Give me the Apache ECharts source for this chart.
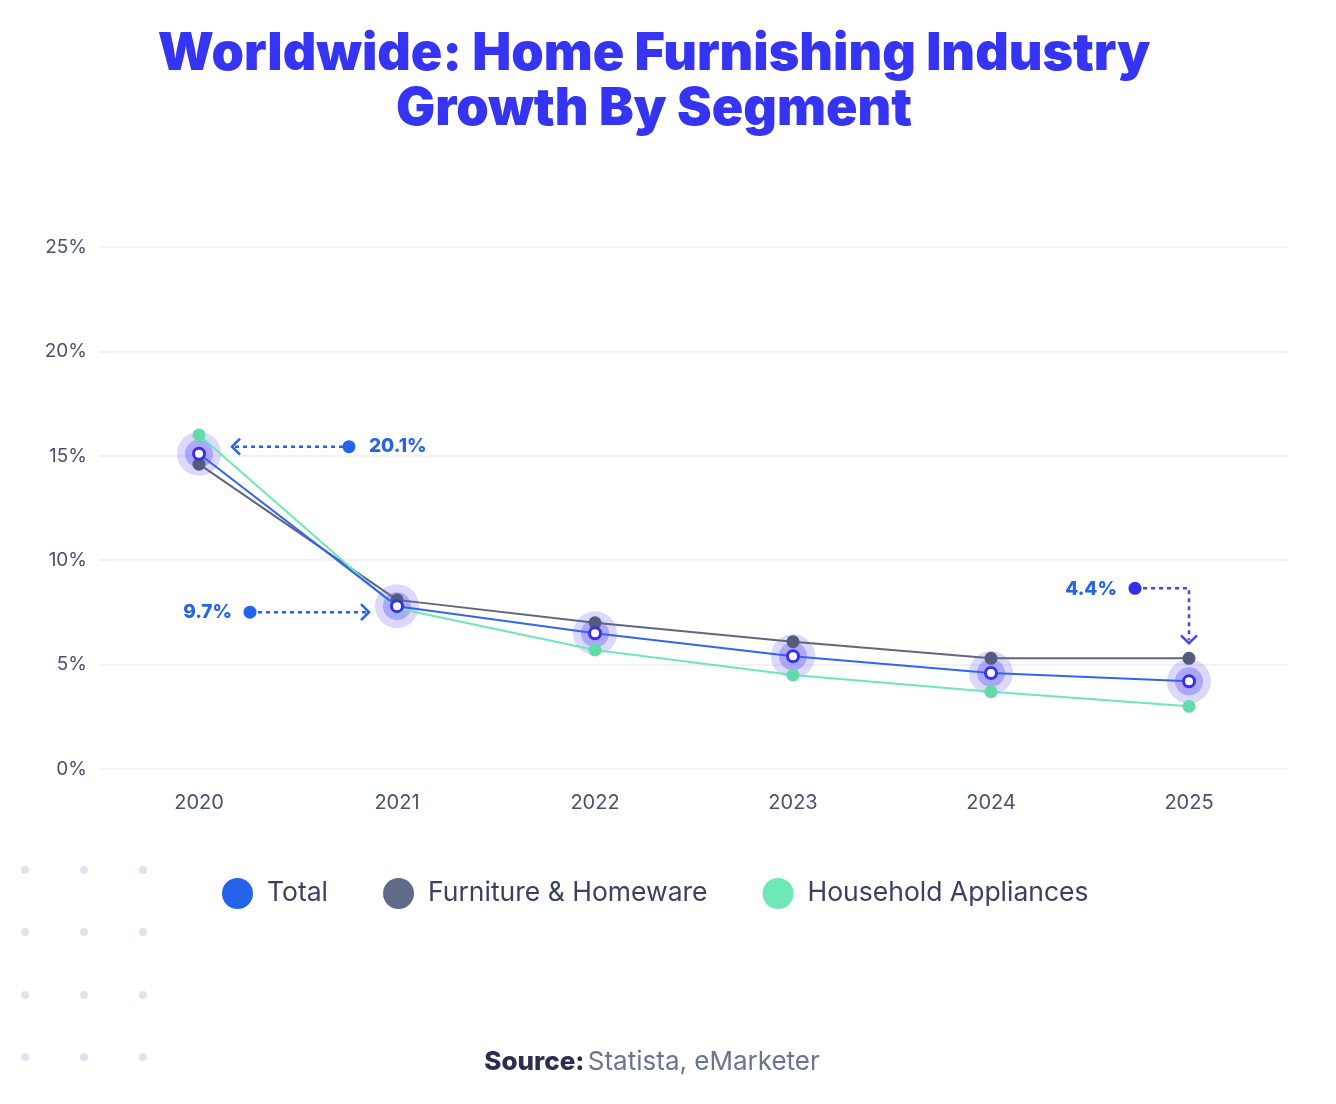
<!DOCTYPE html>
<html>
<head>
<meta charset="utf-8">
<script src="https://cdn.jsdelivr.net/npm/echarts@6/dist/echarts.min.js"></script>
<style>
html,body{margin:0;padding:0;background:#fff;}
#chart{width:1336px;height:1104px;}
</style>
</head>
<body>
<div id="chart"></div>
<script>
const years = ['2020','2021','2022','2023','2024','2025'];
const totalValues = [15.1, 7.8, 6.5, 5.4, 4.6, 4.2];
const furnitureValues = [14.6, 8.1, 7.0, 6.1, 5.3, 5.3];
const applianceValues = [16.0, 7.7, 5.7, 4.5, 3.7, 3.0];
const yTicks = [0, 5, 10, 15, 20, 25];
const annotationLabels = ['20.1%', '9.7%', '4.4%'];

const BLUE = '#2563eb';
const INDIGO = '#3a30ec';
const SLATE = '#5c6885';
const MINT = '#6ee7b7';
const FONT = 'Inter, "Noto Sans", sans-serif';

const chart = echarts.init(document.getElementById('chart'));

const dots = [];
[25, 84, 143].forEach(x => [870, 932, 995, 1057].forEach(y => {
  dots.push({type:'circle', shape:{cx:x, cy:y, r:4}, style:{fill:'#dfe3ef'}, silent:true});
}));

const baseGraphics = [
  {type:'text', x:654, y:27, style:{text:'Worldwide: Home Furnishing Industry\nGrowth By Segment', fill:'#3434f2', font:'900 52px ' + FONT, align:'center', lineHeight:55}},
  {type:'text', x:652, y:1062, style:{rich:{b:{fontWeight:800, fontSize:26, fill:'#2b2f4f', fontFamily:FONT}, n:{fontSize:26, fill:'#6b7391', fontFamily:FONT}}, text:'{b|Source:} {n|Statista, eMarketer}', align:'center', verticalAlign:'middle'}}
].concat(dots);

chart.setOption({
  animation:false,
  backgroundColor:'#fff',
  grid:{left:100, right:48, top:247, bottom:335},
  legend:{
    data:[
      {name:'Total', itemStyle:{color:BLUE, borderWidth:0}},
      {name:'Furniture & Homeware', itemStyle:{color:'#5f6b88'}},
      {name:'Household Appliances', itemStyle:{color:MINT}}
    ],
    top:873, left:217, icon:'circle', itemWidth:31, itemHeight:31, itemGap:55,
    textStyle:{fontSize:26.5, color:'#3b4060', fontFamily:FONT, padding:[0,0,0,9]}
  },
  xAxis:{
    type:'category', data:years, boundaryGap:true,
    axisLine:{show:false}, axisTick:{show:false},
    axisLabel:{fontSize:20, color:'#4a5070', margin:24, fontFamily:FONT}
  },
  yAxis:{
    type:'value', min:yTicks[0], max:yTicks[yTicks.length-1], interval:5,
    axisLine:{show:false}, axisTick:{show:false},
    splitLine:{lineStyle:{color:'#eceef6', width:1.5}},
    axisLabel:{formatter:'{value}%', fontSize:19, color:'#4a5070', margin:13, fontFamily:FONT}
  },
  series:[
    {name:'haloOuter', type:'scatter', data:totalValues, symbolSize:44, itemStyle:{color:'rgba(115,105,245,0.32)'}, z:1, silent:true},
    {name:'haloInner', type:'scatter', data:totalValues, symbolSize:28, itemStyle:{color:'rgba(90,80,240,0.45)'}, z:1, silent:true},
    {name:'Furniture & Homeware', type:'line', data:furnitureValues, color:SLATE, symbol:'circle', symbolSize:13, showSymbol:true,
      lineStyle:{width:2, color:'#5f6780'}, itemStyle:{color:'#535c7c'}, z:3},
    {name:'Household Appliances', type:'line', data:applianceValues, color:MINT, symbol:'circle', symbolSize:13,
      lineStyle:{width:2, color:'#6ee7b7'}, itemStyle:{color:'#62dba8'}, z:3},
    {name:'Total', type:'line', data:totalValues, color:BLUE, symbol:'circle', symbolSize:11,
      lineStyle:{width:2, color:'#3364f0'}, itemStyle:{color:'#ffffff', borderColor:INDIGO, borderWidth:3}, z:4}
  ],
  graphic: baseGraphics
});

function P(i) { return chart.convertToPixel({seriesIndex:4}, [i, totalValues[i]]); }
const dash = {lineDash:[4,4], lineWidth:2.5};
const ann = [];
// Annotation 1 (2020)
(function(){
  const p = P(0); const y = p[1] - 7; const tip = p[0] + 33; const dot = p[0] + 150;
  ann.push({type:'line', shape:{x1:tip+3, y1:y, x2:dot, y2:y}, style:Object.assign({stroke:BLUE}, dash), z:10});
  ann.push({type:'polyline', shape:{points:[[tip+8, y-8],[tip, y],[tip+8, y+8]]}, style:{stroke:BLUE, lineWidth:2.5, fill:null}, z:10});
  ann.push({type:'circle', shape:{cx:dot, cy:y, r:6.5}, style:{fill:BLUE}, z:10});
  ann.push({type:'text', x:dot+20, y:y, style:{text:annotationLabels[0], fill:BLUE, font:'800 19px ' + FONT, verticalAlign:'middle'}, z:10});
})();
// Annotation 2 (2021)
(function(){
  const p = P(1); const y = p[1] + 6; const tip = p[0] - 28; const dot = p[0] - 147;
  ann.push({type:'line', shape:{x1:dot, y1:y, x2:tip-3, y2:y}, style:Object.assign({stroke:BLUE}, dash), z:10});
  ann.push({type:'polyline', shape:{points:[[tip-8, y-8],[tip, y],[tip-8, y+8]]}, style:{stroke:BLUE, lineWidth:2.5, fill:null}, z:10});
  ann.push({type:'circle', shape:{cx:dot, cy:y, r:6.5}, style:{fill:BLUE}, z:10});
  ann.push({type:'text', x:dot-18, y:y, style:{text:annotationLabels[1], fill:BLUE, font:'800 19px ' + FONT, align:'right', verticalAlign:'middle'}, z:10});
})();
// Annotation 3 (2025)
(function(){
  const p = P(5); const y = p[1] - 93; const dot = p[0] - 54; const tipY = p[1] - 38;
  ann.push({type:'polyline', shape:{points:[[dot, y],[p[0], y],[p[0], tipY-3]]}, style:Object.assign({stroke:'#4a45ea', fill:null}, dash), z:10});
  ann.push({type:'polyline', shape:{points:[[p[0]-8, tipY-8],[p[0], tipY],[p[0]+8, tipY-8]]}, style:{stroke:'#4a45ea', lineWidth:2.5, fill:null}, z:10});
  ann.push({type:'circle', shape:{cx:dot, cy:y, r:6.5}, style:{fill:'#3530e6'}, z:10});
  ann.push({type:'text', x:dot-18, y:y+1, style:{text:annotationLabels[2], fill:BLUE, font:'800 19px ' + FONT, align:'right', verticalAlign:'middle'}, z:10});
})();

chart.setOption({graphic: baseGraphics.concat(ann)}, {replaceMerge:['graphic']});
</script>
</body>
</html>
